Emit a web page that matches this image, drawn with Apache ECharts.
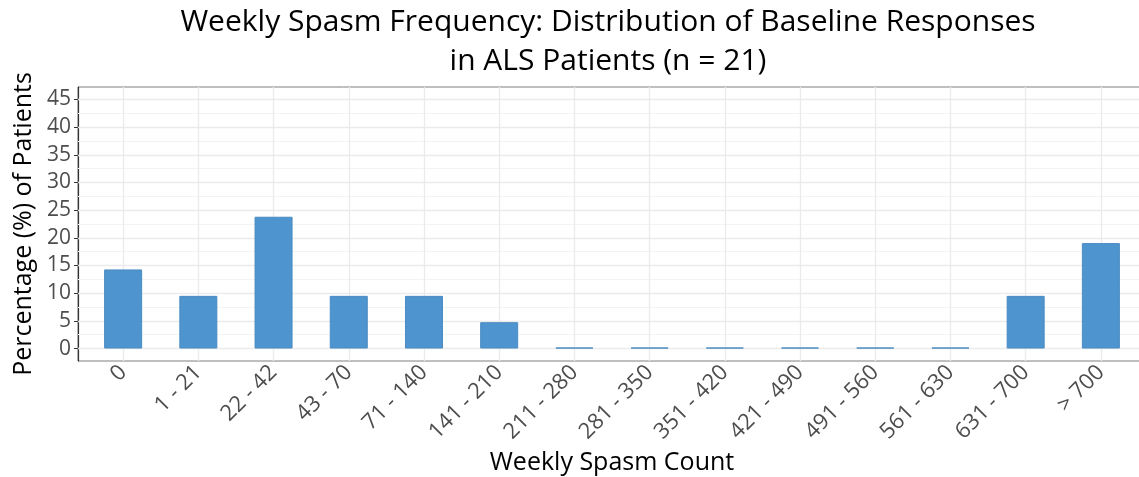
<!DOCTYPE html>
<html>
<head>
<meta charset="utf-8">
<script src="https://cdn.jsdelivr.net/npm/echarts@6/dist/echarts.min.js"></script>
<style>
  html, body { margin: 0; padding: 0; background: #fff; }
  #chart { width: 1139px; height: 477px; }
</style>
</head>
<body>
<div id="chart"></div>
<script>
// Weekly spasm count bins and share of patients (%) in each, n = 21
const categories = ['0', '1 - 21', '22 - 42', '43 - 70', '71 - 140', '141 - 210', '211 - 280',
  '281 - 350', '351 - 420', '421 - 490', '491 - 560', '561 - 630', '631 - 700', '> 700'];
const percentages = [14.29, 9.52, 23.81, 9.52, 9.52, 4.76, 0, 0, 0, 0, 0, 0, 9.52, 19.05];
const yTicks = [0, 5, 10, 15, 20, 25, 30, 35, 40, 45];
const yMinorLines = [2.5, 7.5, 12.5, 17.5, 22.5, 27.5, 32.5, 37.5, 42.5];

const FONT = 'Open Sans';
const positions = categories.map((c, i) => i + 1);

const chart = echarts.init(document.getElementById('chart'), null, { renderer: 'canvas' });

const gridLine = (c, w) => ({ color: c, width: w, type: 'solid' });

chart.setOption({
  animation: false,
  backgroundColor: '#ffffff',
  title: {
    text: 'Weekly Spasm Frequency: Distribution of Baseline Responses\nin ALS Patients (n = 21)',
    left: 603,
    textAlign: 'center',
    top: -2,
    textStyle: { fontFamily: FONT, fontSize: 30, fontWeight: 'normal', color: '#000', lineHeight: 39 }
  },
  grid: {
    left: 78, top: 87, right: -7, bottom: 116,
    outerBoundsMode: 'none',
    show: true, borderColor: '#7f7f7f', borderWidth: 1, backgroundColor: 'transparent'
  },
  xAxis: {
    type: 'value',
    min: 0.4, max: 14.6,
    name: 'Weekly Spasm Count',
    nameLocation: 'middle',
    nameGap: 83,
    nameTextStyle: { fontFamily: FONT, fontSize: 25, color: '#000', verticalAlign: 'top' },
    axisLine: { show: true, lineStyle: { color: '#333', width: 1.2 } },
    axisTick: { show: true, customValues: positions, length: 5, lineStyle: { color: '#333' } },
    axisLabel: {
      customValues: positions,
      formatter: v => categories[Math.round(v) - 1] || '',
      rotate: 45, margin: 8,
      fontFamily: FONT, fontSize: 22, color: '#4d4d4d'
    },
    splitLine: { show: false }
  },
  yAxis: {
    type: 'value',
    min: -2.25, max: 47.25,
    name: 'Percentage (%) of Patients',
    nameLocation: 'middle',
    nameGap: 40,
    nameTextStyle: { fontFamily: FONT, fontSize: 25, color: '#000' },
    axisLine: { show: true, lineStyle: { color: '#333', width: 1.2 } },
    axisTick: { show: true, customValues: yTicks, length: 4, lineStyle: { color: '#333' } },
    axisLabel: {
      customValues: yTicks,
      margin: 7,
      fontFamily: FONT, fontSize: 21, color: '#4d4d4d'
    },
    splitLine: { show: false }
  },
  series: [
    {
      // panel grid: minor and major horizontal lines, vertical lines at each bin
      type: 'line',
      data: [],
      silent: true,
      z: 1,
      markLine: {
        z: 1,
        silent: true,
        symbol: ['none', 'none'],
        label: { show: false },
        emphasis: { disabled: true },
        animation: false,
        data: [
          ...yMinorLines.map(v => ({ yAxis: v, lineStyle: gridLine('#f3f3f3', 1) })),
          ...yTicks.map(v => ({ yAxis: v, lineStyle: gridLine('#ebebeb', 1.3) })),
          ...positions.map(v => ({ xAxis: v, lineStyle: gridLine('#ebebeb', 1.3) }))
        ]
      }
    },
    {
      type: 'bar',
      z: 3,
      barWidth: 38,
      barMinHeight: 1,
      data: positions.map((x, i) => [x, percentages[i]]),
      itemStyle: { color: '#4e94ce', borderColor: '#4a8bc2', borderWidth: 1 },
      emphasis: { disabled: true }
    }
  ]
});
</script>
</body>
</html>
